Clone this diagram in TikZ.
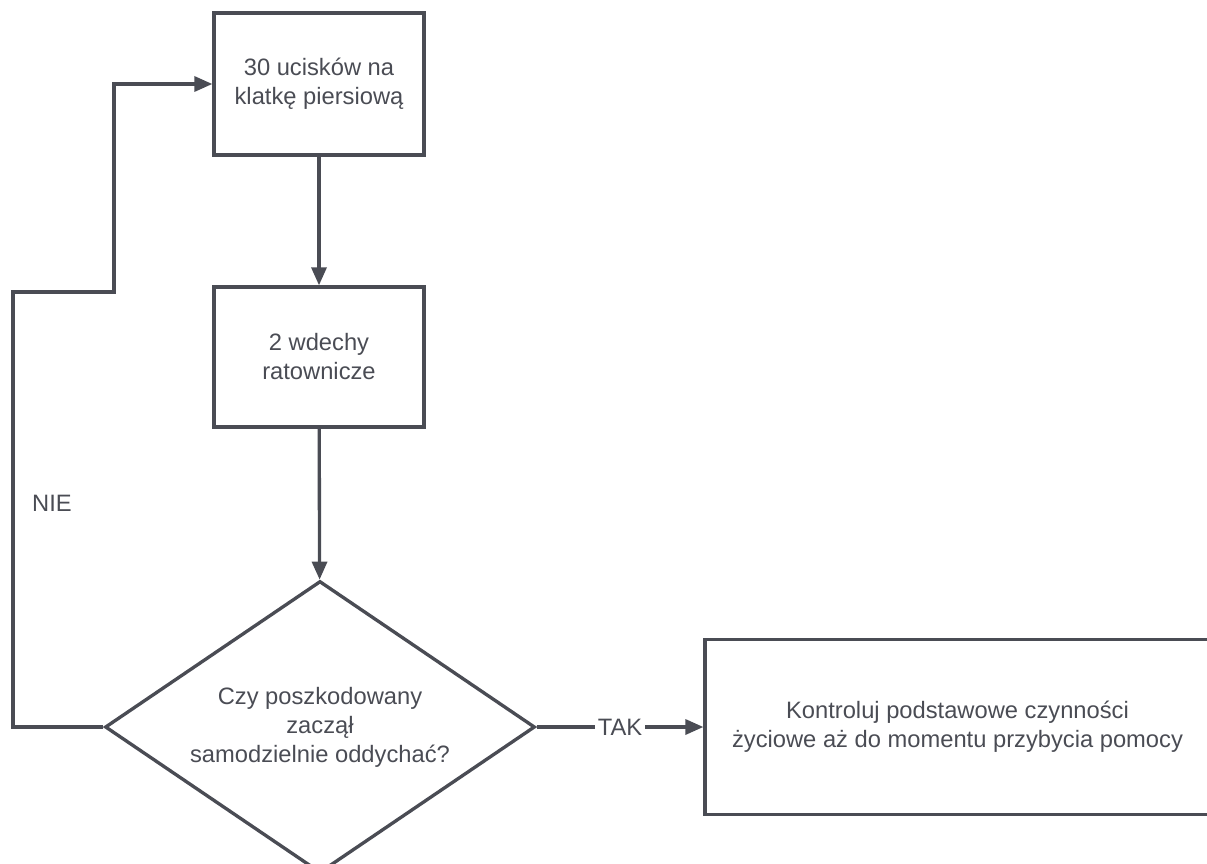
\documentclass[tikz,border=0pt]{standalone}
\usepackage{fontspec}
\setmainfont{Liberation Sans}
\usetikzlibrary{shapes.geometric,arrows.meta}
\definecolor{ink}{HTML}{4A4C54}
\begin{document}
\begin{tikzpicture}[x=0.02cm,y=-0.02cm,
		color=ink,text=ink,line width=1.9pt,
		font=\fontsize{13.5}{16.5}\selectfont,
		krok/.style={draw,rectangle,align=center,inner sep=0pt},
		pytanie/.style={draw,diamond,aspect=1.47,align=center,inner sep=0pt,
			minimum width=8.6cm,minimum height=5.84cm},
		strzalka/.style={-{Triangle[length=0.36cm,width=0.3cm]}}]
		\useasboundingbox (0,0) rectangle (1207,864);
		\node [krok,minimum width=4.2cm,minimum height=2.84cm] (uciski) at (319,84)
			{30 ucisków na\\klatkę piersiową};
		\node [krok,minimum width=4.2cm,minimum height=2.8cm] (wdechy) at (319,357)
			{2 wdechy\\ratownicze};
		\node [pytanie] (oddech) at (320,727)
			{Czy poszkodowany\\zaczął\\samodzielnie oddychać?};
		\node [krok,minimum width=10.1cm,minimum height=3.5cm] (kontrola) at (957.5,727)
			{Kontroluj podstawowe czynności\\życiowe aż do momentu przybycia pomocy};
		\coordinate (zakret1) at (13,292);
		\coordinate (zakret2) at (114,84);
		\draw [strzalka] (uciski) -- (wdechy);
		\draw [strzalka] (wdechy) -- (oddech);
		\draw [strzalka] (oddech.west) -| (zakret1) -| (zakret2) -- (uciski.west);
		\draw [strzalka] (oddech.east) -- node [fill=white,inner sep=1.5pt] (tak) {TAK} (kontrola.west);
		\node (nie) at (52,503) {NIE};
		\end{tikzpicture}
\end{document}
